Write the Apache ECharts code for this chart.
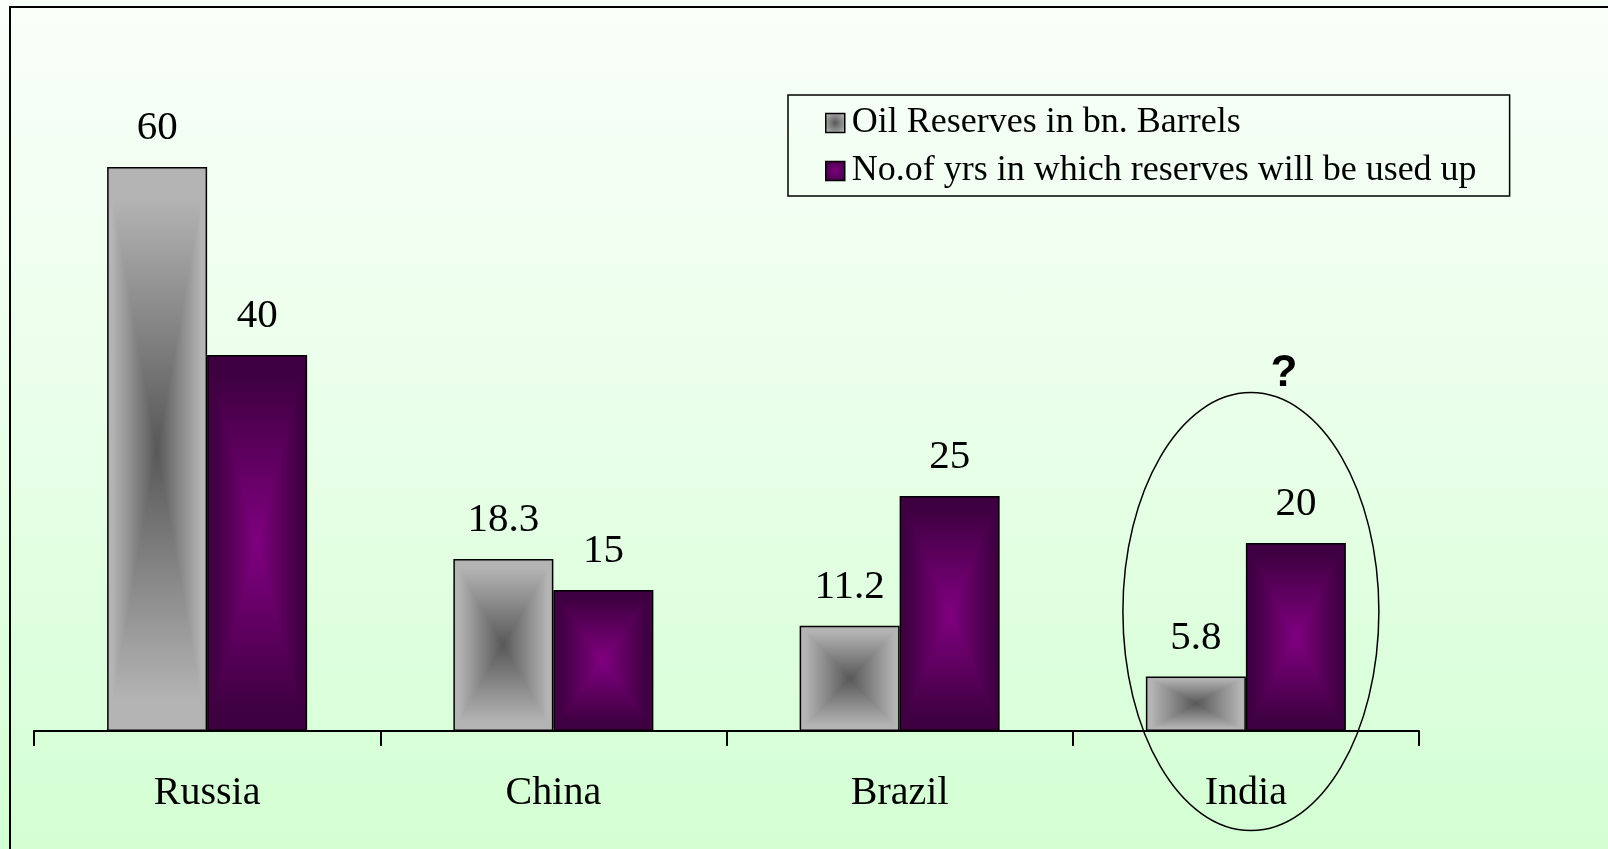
<!DOCTYPE html>
<html>
<head>
<meta charset="utf-8">
<script src="https://cdn.jsdelivr.net/npm/echarts@6/dist/echarts.min.js"></script>
<style>
  html, body { margin: 0; padding: 0; }
  body { width: 1608px; height: 849px; overflow: hidden;
         background: linear-gradient(to bottom, #f9fff9 0%, #ebffeb 45%, #d3ffd3 100%); }
  #chart { width: 1608px; height: 849px; }
</style>
</head>
<body>
<div id="chart"></div>
<script>
// ---- data ----
const categories = ['Russia', 'China', 'Brazil', 'India'];
const seriesNames = ['Oil Reserves in bn. Barrels', 'No.of yrs in which reserves will be used up'];
const oilReserves = [60, 18.3, 11.2, 5.8];
const yearsLeft = [40, 15, 25, 20];
const annotatedCategory = 'India';
const annotationText = '?';

// ---- styles ----
const serif = '"Liberation Serif", "Times New Roman", serif';
const grayCenter = [88, 88, 88], grayEdge = [180, 180, 180];
const purpleCenter = [128, 0, 128], purpleEdge = [62, 0, 64];

function rgb(c) { return 'rgb(' + c.join(',') + ')'; }
function radial(center, edge) {
  return { type: 'radial', x: 0.5, y: 0.5, r: 0.6,
    colorStops: [{ offset: 0, color: rgb(center) }, { offset: 1, color: rgb(edge) }] };
}
function boxGradient(w, h, center, edge) {
  const c = document.createElement('canvas');
  c.width = Math.max(1, w); c.height = Math.max(1, h);
  const ctx = c.getContext('2d');
  const img = ctx.createImageData(c.width, c.height);
  for (let y = 0; y < c.height; y++) {
    for (let x = 0; x < c.width; x++) {
      const tx = Math.abs(x + 0.5 - c.width / 2) / (c.width / 2);
      const ty = Math.abs(y + 0.5 - c.height / 2) / (c.height / 2);
      let t = Math.min(1, Math.max(tx, ty) * 1.12);
      const i = (y * c.width + x) * 4;
      for (let k = 0; k < 3; k++) img.data[i + k] = center[k] + (edge[k] - center[k]) * t;
      img.data[i + 3] = 255;
    }
  }
  ctx.putImageData(img, 0, 0);
  return c;
}

const chart = echarts.init(document.getElementById('chart'), null, { renderer: 'canvas' });

const labelStyle = { show: true, position: 'top', distance: 18, fontFamily: serif, fontSize: 41, color: '#000' };

const option = {
  animation: false,
  backgroundColor: 'transparent',
  grid: { left: 34, right: 189, top: 167, bottom: 118 },
  legend: {
    orient: 'vertical', left: 788, top: 95,
    padding: [10, 33, 7, 37], itemGap: 12,
    itemWidth: 19, itemHeight: 19,
    borderColor: '#000', borderWidth: 1.5,
    backgroundColor: 'transparent',
    textStyle: { fontFamily: serif, fontSize: 36, color: '#000', padding: [0, 0, 0, 2] },
    data: [
      { name: seriesNames[0], icon: 'rect', itemStyle: { color: radial(grayCenter, grayEdge), borderColor: '#000', borderWidth: 1.5 } },
      { name: seriesNames[1], icon: 'rect', itemStyle: { color: radial(purpleCenter, purpleEdge), borderColor: '#000', borderWidth: 1.5 } }
    ]
  },
  xAxis: {
    type: 'category', data: categories,
    axisLine: { lineStyle: { color: '#000', width: 2 } },
    axisTick: { show: true, length: 15, lineStyle: { color: '#000', width: 2 } },
    axisLabel: { fontFamily: serif, fontSize: 40, color: '#000', margin: 42 }
  },
  yAxis: { type: 'value', min: 0, max: 60, show: false, splitLine: { show: false } },
  series: [
    { name: seriesNames[0], type: 'bar', barWidth: 100, barGap: '0%', data: oilReserves,
      itemStyle: { color: radial(grayCenter, grayEdge), borderColor: '#000', borderWidth: 1.5 },
      label: labelStyle },
    { name: seriesNames[1], type: 'bar', barWidth: 100, barGap: '0%', data: yearsLeft,
      itemStyle: { color: radial(purpleCenter, purpleEdge), borderColor: '#000', borderWidth: 1.5 },
      label: labelStyle }
  ]
};
chart.setOption(option);

// ---- box-gradient fills placed on each bar's own rectangle ----
function patternedData(seriesIndex, values, center, edge) {
  let data;
  try {
    data = chart.getModel().getSeriesByIndex(seriesIndex).getData();
  } catch (e) { data = null; }
  return values.map((v, i) => {
    let x, y, w, h;
    const lay = data && data.getItemLayout(i);
    if (lay) {
      x = Math.min(lay.x, lay.x + lay.width); y = Math.min(lay.y, lay.y + lay.height);
      w = Math.abs(lay.width); h = Math.abs(lay.height);
    } else {
      const p = chart.convertToPixel({ gridIndex: 0 }, [i, v]);
      const b = chart.convertToPixel({ gridIndex: 0 }, [i, 0]);
      x = seriesIndex === 0 ? p[0] - 100 : p[0]; y = p[1]; w = 100; h = b[1] - p[1];
    }
    const img = boxGradient(Math.round(w), Math.round(h), center, edge);
    return { value: v, itemStyle: { color: { image: img, repeat: 'repeat', x: Math.round(x), y: Math.round(y) } } };
  });
}

chart.setOption({
  series: [
    { data: patternedData(0, oilReserves, grayCenter, grayEdge) },
    { data: patternedData(1, yearsLeft, purpleCenter, purpleEdge) }
  ]
});

// ---- annotation ellipse around the highlighted category ----
const ci = categories.indexOf(annotatedCategory);
const ctr = chart.convertToPixel({ gridIndex: 0 }, [ci, 12.7]);
const ex = ctr[0] + 5, ey = ctr[1];
chart.setOption({
  graphic: [
    { type: 'ellipse', shape: { cx: ex, cy: ey, rx: 128, ry: 219 },
      style: { fill: 'none', stroke: '#000', lineWidth: 1.5 }, z: 10 },
    { type: 'text', x: ex + 33, y: ey - 238,
      style: { text: annotationText, fontFamily: '"Liberation Sans", Arial, sans-serif', fontWeight: 'bold',
               fontSize: 44, fill: '#000', align: 'center', verticalAlign: 'middle' }, z: 10 },
    { type: 'rect', shape: { x: 10, y: 7, width: 1620, height: 860 },
      style: { fill: 'none', stroke: '#000', lineWidth: 2 }, z: 10 }
  ]
});
</script>
</body>
</html>
